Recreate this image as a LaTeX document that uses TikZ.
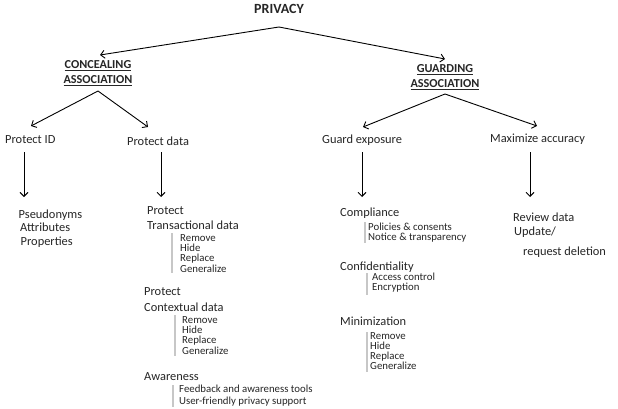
\documentclass[tikz,border=0pt]{standalone}
\usepackage{fontspec}
\setmainfont{Carlito}
\usetikzlibrary{arrows.meta}
\definecolor{txt}{HTML}{262626}
\begin{document}
\begin{tikzpicture}[x=1pt,y=-1pt,
  mainitem/.style={font=\fontsize{12.4}{14}\selectfont, inner sep=0pt, anchor=base west, text=txt},
  subitem/.style={font=\fontsize{10.8}{12}\selectfont, inner sep=0pt, anchor=base west, text=txt},
  headitem/.style={font=\bfseries\fontsize{12.2}{15}\selectfont, inner sep=0pt, align=center, text=txt},
  arr/.style={-{Straight Barb[length=4pt,width=8pt]}, line width=0.9pt, draw=black},
  gbar/.style={line width=2pt, draw=black!22}]
\useasboundingbox (0,0) rectangle (618,409);
\fill[white] (0,0) rectangle (618,409);

% headings
\node[headitem, font=\bfseries\fontsize{14}{16}\selectfont] (priv) at (279,9) {PRIVACY};
\node[headitem] (conc) at (98,73.5) {\underline{CONCEALING}\\\underline{ASSOCIATION}};
\node[headitem] (guard) at (445,77) {\underline{GUARDING}\\\underline{ASSOCIATION}};

% second level
\node[mainitem] (pid) at (5,143.5) {Protect ID};
\node[mainitem] (pdata) at (127,145.5) {Protect data};
\node[mainitem] (gexp) at (322,143.5) {Guard exposure};
\node[mainitem] (maxacc) at (490,142.5) {Maximize accuracy};

% coordinates of connector ends
\coordinate (pa) at (279,27);
\coordinate (ctip) at (100,55);
\coordinate (gtip) at (445,59);
\coordinate (ca) at (98,91);
\coordinate (pidtip) at (31,126);
\coordinate (pdatatip) at (148,127);
\coordinate (ga) at (445,94);
\coordinate (gexptip) at (363,127);
\coordinate (maxtip) at (537,126);
\coordinate (d1s) at (24,152);   \coordinate (d1e) at (24,197);
\coordinate (d2s) at (161,152);  \coordinate (d2e) at (161,197);
\coordinate (d3s) at (362,152);  \coordinate (d3e) at (362,197);
\coordinate (d4s) at (530,152);  \coordinate (d4e) at (530,197);

\draw[arr] (pa) -- (ctip);
\draw[arr] (pa) -- (gtip);
\draw[arr] (ca) -- (pidtip);
\draw[arr] (ca) -- (pdatatip);
\draw[arr] (ga) -- (gexptip);
\draw[arr] (ga) -- (maxtip);
\draw[arr] (d1s) -- (d1e);
\draw[arr] (d2s) -- (d2e);
\draw[arr] (d3s) -- (d3e);
\draw[arr] (d4s) -- (d4e);

% Protect ID leaves
\node[mainitem] (pseu) at (18.5,218.5) {Pseudonyms};
\node[mainitem] (attr) at (20,231.5) {Attributes};
\node[mainitem] (prop) at (20.5,245.5) {Properties};

% Protect data leaves
\node[mainitem] (pt1) at (147,214.5) {Protect};
\node[mainitem] (trans) at (147,229.5) {Transactional data};
\draw[gbar] (172,233) -- (172,273);
\node[subitem] (t1) at (180,241) {Remove};
\node[subitem] (t2) at (180,251) {Hide};
\node[subitem] (t3) at (180,261) {Replace};
\node[subitem] (t4) at (180,272) {Generalize};

\node[mainitem] (pt2) at (144,295.5) {Protect};
\node[mainitem] (ctx) at (144,311.5) {Contextual data};
\draw[gbar] (175,315) -- (175,356);
\node[subitem] (c1) at (182,323) {Remove};
\node[subitem] (c2) at (182,333) {Hide};
\node[subitem] (c3) at (182,343) {Replace};
\node[subitem] (c4) at (182,354) {Generalize};

\node[mainitem] (aw) at (144,380.5) {Awareness};
\draw[gbar] (173,385) -- (173,407);
\node[subitem] (a1) at (179,392) {Feedback and awareness tools};
\node[subitem] (a2) at (179,404) {User-friendly privacy support};

% Guard exposure leaves
\node[mainitem] (comp) at (340,216.5) {Compliance};
\draw[gbar] (365,222) -- (365,243);
\node[subitem] (cp1) at (368,230) {Policies \& consents};
\node[subitem] (cp2) at (368,240) {Notice \& transparency};

\node[mainitem] (conf) at (340,270.5) {Confidentiality};
\draw[gbar] (367,273) -- (367,295);
\node[subitem] (cf1) at (372,280.5) {Access control};
\node[subitem] (cf2) at (372,290.5) {Encryption};

\node[mainitem] (mini) at (340,325.5) {Minimization};
\draw[gbar] (367,332) -- (367,372);
\node[subitem] (m1) at (370,339) {Remove};
\node[subitem] (m2) at (370,349) {Hide};
\node[subitem] (m3) at (370,359) {Replace};
\node[subitem] (m4) at (370,369) {Generalize};

% Maximize accuracy leaves
\node[mainitem] (rev) at (513,221.5) {Review data};
\node[mainitem] (upd) at (514,235.5) {Update/};
\node[mainitem] (req) at (523,255.5) {request deletion};
\end{tikzpicture}
\end{document}
